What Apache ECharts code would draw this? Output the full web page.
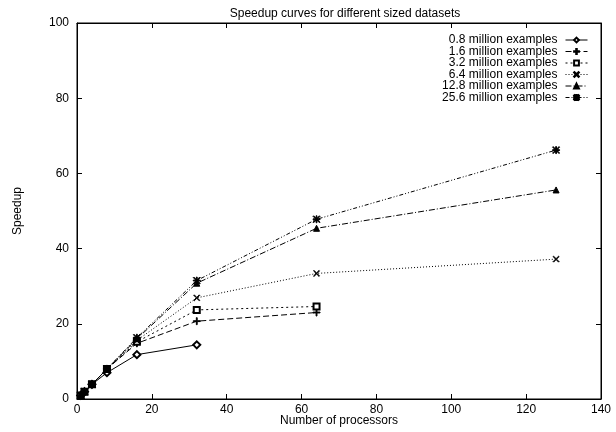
<!DOCTYPE html>
<html><head><meta charset="utf-8">
<script src="https://cdn.jsdelivr.net/npm/echarts@6/dist/echarts.min.js"></script>
<style>html,body{margin:0;padding:0;background:#fff}#c{width:616px;height:432px}</style>
</head><body><div id="c"></div>
<script>
const processors = [1, 2, 4, 8, 16, 32, 64, 128];
const seriesNames = ['0.8 million examples','1.6 million examples','3.2 million examples','6.4 million examples','12.8 million examples','25.6 million examples'];
const speed08 = [0.95, 1.95, 3.9, 7.0, 11.8, 14.4];
const speed16 = [0.95, 1.95, 3.9, 8.0, 14.8, 20.7, 23.0];
const speed32 = [0.95, 1.95, 3.9, 8.0, 15.2, 23.7, 24.6];
const speed64 = [0.95, 1.95, 3.9, 8.0, 15.6, 26.9, 33.4, 37.2];
const speed128 = [0.95, 1.95, 3.9, 8.0, 16.0, 30.8, 45.4, 55.6];
const speed256 = [0.95, 1.95, 3.9, 8.0, 16.3, 31.5, 47.8, 66.2];

const FONT = 'Liberation Sans';
const FS = 12;
const plusPath = 'path://M4.4,0H5.6V4.4H10V5.6H5.6V10H4.4V5.6H0V4.4H4.4Z';
const crossPath = 'path://M0,0.8L0.8,0L5,4.2L9.2,0L10,0.8L5.8,5L10,9.2L9.2,10L5,5.8L0.8,10L0,9.2L4.2,5Z';
const starPath = 'path://M4.4,0H5.6V4.4H10V5.6H5.6V10H4.4V5.6H0V4.4H4.4Z M0.8,0L5,4.2L9.2,0L10,0.8L5.8,5L10,9.2L9.2,10L5,5.8L0.8,10L0,9.2L4.2,5L0,0.8Z';

const allData = [speed08, speed16, speed32, speed64, speed128, speed256];
const styles = [
  {symbol:'emptyDiamond', size:7, dash:'solid'},
  {symbol:plusPath, size:7, dash:[6,3]},
  {symbol:'emptyRect', size:6, dash:[2,3]},
  {symbol:crossPath, size:6, dash:[1,2]},
  {symbol:'triangle', size:6, dash:[6,2,1,2]},
  {symbol:starPath, size:7, dash:[4,2,1,2,1,2]}
];

const series = allData.map((vals, i) => ({
  name: seriesNames[i],
  type: 'line',
  xAxisIndex: 0, yAxisIndex: 0,
  data: vals.map((v, j) => [processors[j], v]),
  symbol: styles[i].symbol,
  symbolSize: styles[i].size,
  showAllSymbol: true,
  lineStyle: {color:'#000', width:1, type: styles[i].dash},
  itemStyle: {color:'#000', borderColor:'#000', borderWidth:1},
  emphasis: {disabled:true},
  animation: false
}));

const GRID = {left:77, right:15, top:23, bottom:33};

function mkLine() { return {show:true, onZero:false, lineStyle:{color:'#000', width:1}}; }
function mkTick() { return {show:true, inside:true, length:5, lineStyle:{color:'#000', width:1}}; }
function mkLabel(m) { return {show:true, color:'#000', fontFamily:FONT, fontSize:FS, margin:m}; }
const nameStyle = {fontFamily:FONT, fontSize:FS, color:'#000'};

const xBase = {type:'value', min:0, max:140, interval:20, splitLine:{show:false}};
const yBase = {type:'value', min:0, max:100, interval:20, splitLine:{show:false}};

const chart = echarts.init(document.getElementById('c'), null, {renderer:'canvas'});
chart.setOption({
  backgroundColor: '#fff',
  animation: false,
  title: {
    text: 'Speedup curves for different sized datasets',
    left: 340, textAlign: 'center', top: 3,
    textStyle: {fontFamily:FONT, fontSize:FS, fontWeight:'normal', color:'#000'}
  },
  legend: {
    orient: 'vertical',
    right: 28, top: 34,
    align: 'right',
    padding: 0,
    itemWidth: 22, itemHeight: 6, itemGap: -0.5,
    lineStyle: {width: 1},
    textStyle: {fontFamily:FONT, fontSize:FS, color:'#000', padding:[0,3,0,0]},
    data: seriesNames
  },
  grid: Object.assign({show:true, borderColor:'#000', borderWidth:1, containLabel:false, outerBoundsMode:'none'}, GRID),
  xAxis: [
    Object.assign({}, xBase, {position:'bottom', axisLine:mkLine(), axisTick:mkTick(), axisLabel:mkLabel(5),
      name:'Number of processors', nameLocation:'middle', nameGap:16, nameMoveOverlap:false, nameTextStyle:nameStyle}),
    Object.assign({}, xBase, {position:'top', axisLine:mkLine(), axisTick:mkTick(), axisLabel:{show:false}})
  ],
  yAxis: [
    Object.assign({}, yBase, {position:'left', axisLine:mkLine(), axisTick:mkTick(), axisLabel:mkLabel(8),
      name:'Speedup', nameLocation:'middle', nameGap:53, nameTextStyle:nameStyle}),
    Object.assign({}, yBase, {position:'right', axisLine:mkLine(), axisTick:mkTick(), axisLabel:{show:false}})
  ],
  series: series
});
</script>
</body></html>
